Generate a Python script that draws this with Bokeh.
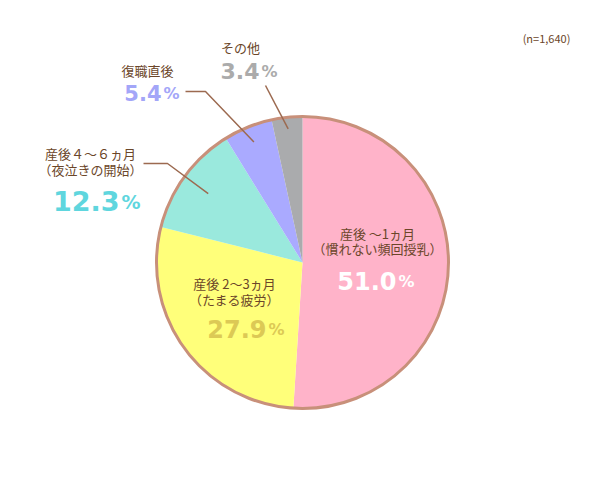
import math
from bokeh.plotting import figure
from bokeh.models import Range1d, ColumnDataSource
from bokeh.core.properties import value
from bokeh.embed import file_html
from bokeh.resources import INLINE

# ---- data ----
categories = ["産後～1ヵ月", "産後2～3ヵ月", "産後4～6ヵ月", "復職直後", "その他"]
shares = [51.0, 27.9, 12.3, 5.4, 3.4]
label_lines = [
    ["産後 ～1ヵ月", "（慣れない頻回授乳）"],
    ["産後 2～3ヵ月", "（たまる疲労）"],
    ["産後４～６ヵ月", "（夜泣きの開始）"],
    ["復職直後"],
    ["その他"],
]
pct_texts = ["51.0", "27.9", "12.3", "5.4", "3.4"]
n_text = "(n=1,640)"

# ---- styles / layout ----
colors = ["#FFB3C9", "#FFFF7A", "#9AE9DD", "#AAAAFF", "#AAABAD"]
pct_colors = ["#FFFFFF", "#DCC955", "#5FD6DE", "#A3A6F8", "#ABABAB"]
BROWN = "#6B4629"
RIM = "#C8907A"
LEADER = "#9C6A50"
H = 495
CX, CY, R = 302, 262, 146  # screen coords of pie

def Y(sy):
    return H - sy

label_layout = [
    dict(x=377, y=233, px=396, py=280, ns=24, ps=16, lh=15),
    dict(x=234, y=283, px=266, py=328, ns=24, ps=16, lh=16),
    dict(x=90, y=153, px=119, py=200, ns=27, ps=19, lh=16),
    dict(x=147, y=70, px=161, py=92, ns=21, ps=16, lh=15),
    dict(x=240, y=47, px=259, py=70, ns=22, ps=16, lh=15),
]
leaders = {
    2: dict(pts=[(143, 163), (167, 163)], rf=0.80),
    3: dict(pts=[(185, 91), (205, 91)], rf=0.89),
    4: dict(pts=[(265, 85)], rf=0.92),
}

p = figure(width=584, height=479, output_backend="svg", toolbar_location=None,
           x_range=Range1d(0, 584), y_range=Range1d(16, 495),
           min_border=0, min_border_left=0, min_border_right=0,
           min_border_top=0, min_border_bottom=0)
p.axis.visible = False
p.grid.visible = False
p.outline_line_color = None
p.background_fill_color = "white"
p.border_fill_color = "white"

total = sum(shares)
starts, ends, mids = [], [], []
cum = 0.0
for s in shares:
    a0 = math.pi / 2 - 2 * math.pi * cum / total
    cum += s
    a1 = math.pi / 2 - 2 * math.pi * cum / total
    starts.append(a0)
    ends.append(a1)
    mids.append((a0 + a1) / 2)

src = ColumnDataSource(dict(start=starts, end=ends, color=colors))
p.wedge(x=CX, y=Y(CY), radius=R, start_angle="start", end_angle="end",
        direction="clock", fill_color="color", line_color=None, source=src)
p.circle(x=[CX], y=[Y(CY)], radius=R, fill_color=None, line_color=RIM, line_width=3)

for i, ld in leaders.items():
    ex = CX + R * ld["rf"] * math.cos(mids[i])
    ey = Y(CY) + R * ld["rf"] * math.sin(mids[i])
    xs = [pt[0] for pt in ld["pts"]] + [ex]
    ys = [Y(pt[1]) for pt in ld["pts"]] + [ey]
    p.line(xs, ys, line_color=LEADER, line_width=1.5)

JP = value("Noto Sans CJK JP")
NUM = value("DejaVu Sans")
for i, lay in enumerate(label_layout):
    for k, t in enumerate(label_lines[i]):
        p.text(x=[lay["x"]], y=[Y(lay["y"] + k * lay["lh"])], text=[t],
               text_font=JP, text_font_size="13px", text_color=BROWN,
               text_align="center", text_baseline="middle")
    p.text(x=[lay["px"]], y=[Y(lay["py"])], text=[pct_texts[i]],
           text_font=NUM, text_font_style="bold", text_font_size=f"{lay['ns']}px",
           text_color=pct_colors[i], text_align="right", text_baseline="middle")
    p.text(x=[lay["px"] + 2], y=[Y(lay["py"] + 1)], text=["%"],
           text_font=NUM, text_font_style="bold", text_font_size=f"{lay['ps']}px",
           text_color=pct_colors[i], text_align="left", text_baseline="middle")

p.text(x=[546], y=[Y(37)], text=[n_text], text_font=JP, text_font_size="11px",
       text_color=BROWN, text_align="center", text_baseline="middle")

open("out.html", "w").write(file_html(p, INLINE))
